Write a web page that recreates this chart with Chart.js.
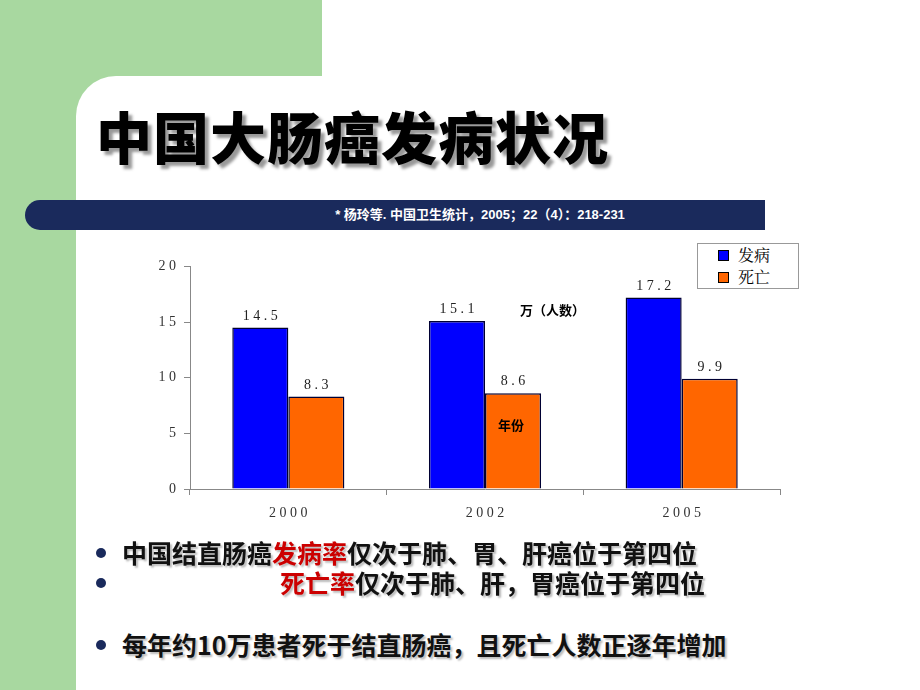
<!DOCTYPE html>
<html><head><meta charset="utf-8">
<script src="https://cdn.jsdelivr.net/npm/chart.js@4"></script>
<style>
body{margin:0;width:920px;height:690px;position:relative;background:#fff;overflow:hidden;font-family:"Noto Sans CJK SC",sans-serif}
.g1{position:absolute;left:0;top:0;width:322px;height:76px;background:#a8d8a0}
.g2{position:absolute;left:0;top:0;width:76px;height:690px;background:#a8d8a0}
.wc{position:absolute;left:76px;top:76px;width:60px;height:60px;background:#a8d8a0}
.wc2{position:absolute;left:76px;top:76px;width:60px;height:60px;background:#fff;border-top-left-radius:40px}
h1{position:absolute;left:96px;top:94px;margin:0;font-size:56px;font-weight:900;color:#000;text-shadow:4px 4px 3px #999;letter-spacing:1px}
.bar{position:absolute;left:25px;top:200px;width:740px;height:30px;background:#1a2a5c;border-radius:15px 0 0 15px;color:#fff;font:bold 13px "Liberation Sans","Noto Sans CJK SC",sans-serif;line-height:30px;text-align:center;text-indent:170px}
.legend{position:absolute;left:697px;top:243px;width:100px;height:44px;border:1px solid #999;background:#fff;font:16px "Noto Serif CJK SC","Noto Sans CJK SC";}
.legend div{height:22px;line-height:22px;padding-left:40px;position:relative}
.legend span{position:absolute;left:20px;top:6px;width:9px;height:9px;border:1px solid #000}
.note{position:absolute;font:bold 13px "Noto Sans CJK SC";}
.bl{position:absolute;left:96px;font-size:25px;font-weight:bold;color:#111;text-shadow:2px 2px 2px #bbb}
.bl i{position:absolute;left:0;top:14px;width:10px;height:10px;border-radius:50%;background:#1a2a5c}
.r{color:#cc0000}
</style></head><body>
<div class="g1"></div><div class="g2"></div><div class="wc"></div><div class="wc2"></div>
<h1>中国大肠癌发病状况</h1>
<div class="bar">* 杨玲等. 中国卫生统计，2005；22（4）：218-231</div>
<div style="position:absolute;left:130px;top:250px;width:680px;height:290px"><canvas id="c" width="680" height="290"></canvas></div>
<div class="legend"><div><span style="background:#0000ff"></span>发病</div><div><span style="background:#ff6600"></span>死亡</div></div>
<div class="note" style="left:520px;top:300px">万（人数）</div>
<div class="note" style="left:498px;top:415px">年份</div>
<div class="bl" style="top:534px"><i></i><span style="padding-left:26px">中国结直肠癌<span class="r">发病率</span>仅次于肺、胃、肝癌位于第四位</span></div>
<div class="bl" style="top:564px"><i></i><span style="padding-left:184px"><span class="r">死亡率</span>仅次于肺、肝，胃癌位于第四位</span></div>
<div class="bl" style="top:626px"><i></i><span style="padding-left:26px">每年约10万患者死于结直肠癌，且死亡人数正逐年增加</span></div>
<script>
const years = ['2000', '2002', '2005'];
const incidence = [14.5, 15.1, 17.2];
const deaths = [8.3, 8.6, 9.9];
const yTicks = [0, 5, 10, 15, 20];

const labelPlugin = {
	id: 'labels',
	afterDatasetsDraw(chart) {
		const ctx = chart.ctx
		ctx.save()
		ctx.font = '14px "Liberation Serif"'
		ctx.fillStyle = '#222'
		ctx.textAlign = 'center'
		chart.data.datasets.forEach((ds, i) => {
			chart.getDatasetMeta(i).data.forEach((bar, j) => {
				ctx.fillText(ds.data[j].toFixed(1).split('').join(' '), bar.x, bar.y - 8)
			})
		})
		ctx.restore()
	}
};

new Chart(document.getElementById('c'), {
	type: 'bar',
	data: {
		labels: years,
		datasets: [
			{ label: '发病', data: incidence, backgroundColor: '#0000ff', borderColor: '#000033', borderWidth: 1.5 },
			{ label: '死亡', data: deaths, backgroundColor: '#ff6600', borderColor: '#000033', borderWidth: 1.5 }
		]
	},
	options: {
		responsive: false,
		animation: false,
		layout: { padding: { top: 15, right: 30 } },
		plugins: { legend: { display: false }, tooltip: { enabled: false } },
		datasets: { bar: { categoryPercentage: 0.57, barPercentage: 1 } },
		scales: {
			x: {
				grid: { display: true, drawOnChartArea: false, offset: true, color: '#888', tickLength: 6 },
				border: { color: '#888' },
				ticks: { color: '#333', font: { family: 'Liberation Serif', size: 14 }, padding: 10,
					callback: (v, i) => years[i].split('').join(' ') },
				afterFit: s => { s.height = 51 }
			},
			y: {
				min: 0, max: 20,
				afterBuildTicks: s => { s.ticks = yTicks.map(v => ({ value: v })) },
				grid: { drawOnChartArea: false, color: '#888', tickLength: 6 },
				border: { color: '#888' },
				ticks: { color: '#333', font: { family: 'Liberation Serif', size: 14 }, padding: 8,
					callback: v => String(v).split('').join(' ') },
				afterFit: s => { s.width = 60 }
			}
		}
	},
	plugins: [labelPlugin]
});
</script>
</body></html>
